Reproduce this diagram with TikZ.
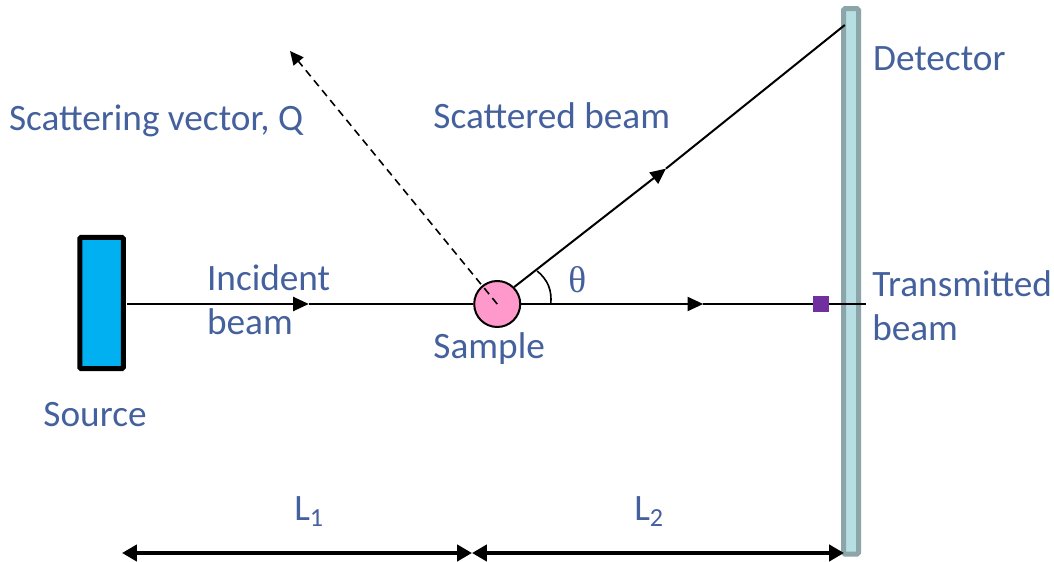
\documentclass[tikz,border=0pt]{standalone}
\usepackage{fontspec}
\setmainfont{Carlito}
\newfontfamily\thetafont{Liberation Serif}
\usetikzlibrary{arrows.meta}
\definecolor{labelblue}{HTML}{44619D}
\definecolor{sourceblue}{HTML}{00B0F0}
\definecolor{samplepink}{HTML}{FF99CC}
\definecolor{detfill}{HTML}{B7DEE3}
\definecolor{detdraw}{HTML}{8CA5A8}
\definecolor{stoppurple}{HTML}{7030A0}
\begin{document}
\begin{tikzpicture}[
  lbl/.style={font=\fontsize{26.5}{30}\selectfont, text=labelblue, inner sep=0pt, anchor=base west, align=left},
  ray/.style={line width=0.5mm},
  mid/.style={ray, -{Triangle[length=3.9mm,width=3.5mm]}},
  dim/.style={line width=1.1mm, {Triangle[length=3.7mm,width=4mm]}-{Triangle[length=3.7mm,width=4mm]}},
  >=stealth
]
\useasboundingbox (0,0) rectangle (26.35,14.025);
\node[draw=black, line width=1.25mm, fill=sourceblue, rounded corners=0.3mm,
      minimum width=1.085cm, minimum height=3.28cm, inner sep=0pt] (source) at (2.54,6.45) {};
\node[draw=detdraw, line width=1.25mm, fill=detfill, rounded corners=0.4mm,
      minimum width=0.375cm, minimum height=13.64cm, inner sep=0pt] (detector) at (21.275,6.99) {};
\node[circle, draw=black, line width=0.5mm, fill=samplepink, minimum size=1.15cm, inner sep=0pt] (sample) at (12.43,6.425) {};
\node[fill=stoppurple, minimum size=0.4cm, inner sep=0pt] (stop) at (20.52,6.425) {};

\coordinate (incstart) at (3.18,6.425);
\coordinate (incmid)   at (7.72,6.425);
\coordinate (sampc)    at (12.43,6.425);
\coordinate (transmid) at (17.58,6.425);
\coordinate (transend) at (21.66,6.425);
\coordinate (scatmid)  at (16.65,9.81);
\coordinate (scatend)  at (21.12,13.4);
\coordinate (qend)     at (7.25,12.75);
\coordinate (arcstart) at (13.43,7.25);
\coordinate (arcend)   at (13.77,6.425);
\coordinate (dimleft)  at (3.05,0.2);
\coordinate (dimmid)   at (11.8,0.2);
\coordinate (dimright) at (21.1,0.2);

\draw[mid] (incstart) -- (incmid);
\draw[ray] (incmid) -- (sample.west);
\draw[mid] (sample.east) -- (transmid);
\draw[ray] (transmid) -- (stop);
\draw[ray] (stop) -- (transend);
\draw[mid] (sample.45) -- (scatmid);
\draw[ray] (scatmid) -- (scatend);
\draw[line width=0.4mm, dash pattern=on 1.9mm off 1.3mm, -{Triangle[length=3.4mm,width=3.2mm]}] (sampc) -- (qend);
\draw[line width=0.4mm] (arcstart) to[out=-40,in=85] (arcend);
\draw[dim] (dimleft) -- (dimmid);
\draw[dim] (dimmid) -- (dimright);

\node[lbl] (qlbl)    at (0.22,10.77) {Scattering vector, Q};
\node[lbl] (scatlbl) at (10.83,10.8) {Scattered beam};
\node[lbl] (detlbl)  at (21.82,12.27) {Detector};
\node[lbl] (inclbl)  at (5.17,6.77) {Incident};
\node[lbl] (inclbl2) at (5.17,5.65) {beam};
\node[lbl] (samplbl) at (10.83,5.07) {Sample};
\node[lbl] (srclbl)  at (1.08,3.35) {Source};
\node[lbl] (thlbl)   at (14.2,6.72) {\thetafont θ};
\node[lbl] (trlbl)   at (21.8,6.62) {Transmitted};
\node[lbl] (trlbl2)  at (21.8,5.5) {beam};
\node[lbl] (l1lbl)   at (7.35,1.0) {L\textsubscript{1}};
\node[lbl] (l2lbl)   at (15.85,1.0) {L\textsubscript{2}};
\end{tikzpicture}
\end{document}
